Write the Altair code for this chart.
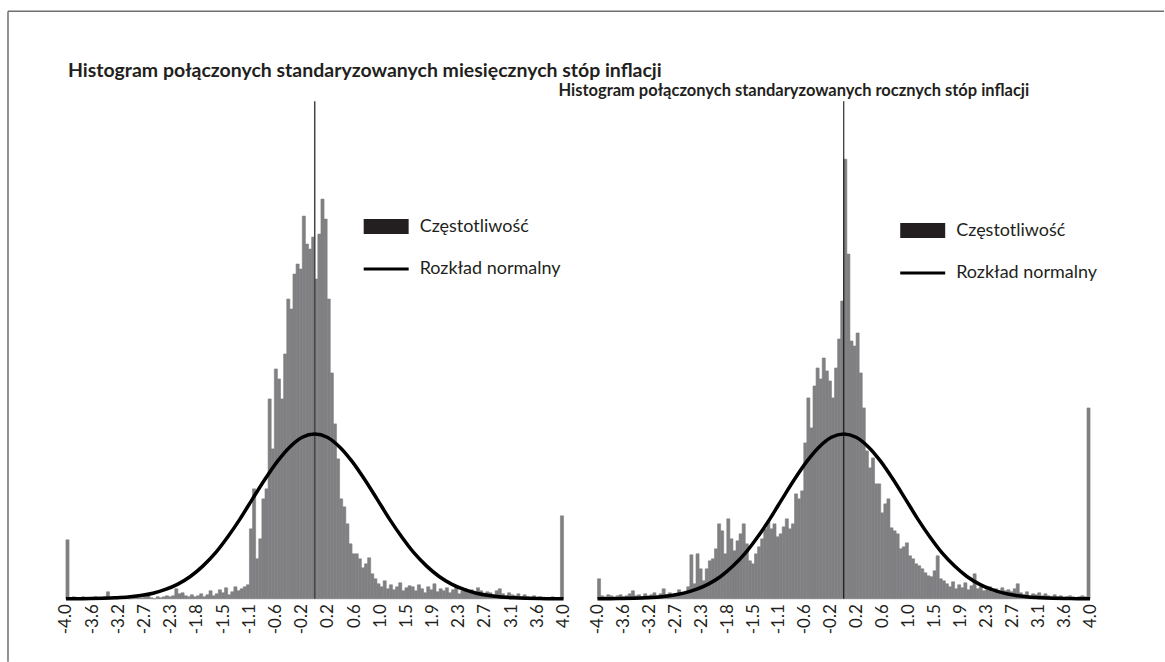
import altair as alt
import pandas as pd

# ---------------- data ----------------
tick_labels = ["-4.0", "-3.6", "-3.2", "-2.7", "-2.3", "-1.8", "-1.5", "-1.1", "-0.6", "-0.2",
               "0.2", "0.6", "1.0", "1.5", "1.9", "2.3", "2.7", "3.1", "3.6", "4.0"]

bin_width = 0.05
x_start = -4.0

# monthly (left) histogram, 160 bins of 0.05 from -4 to 4
monthly_freq = [
    59,
    1, 2, 1, 1, 2, 1, 0, 1, 2, 1, 1, 2, 7,
    1, 2, 0, 1, 2, 1, 0, 1, 2, 1, 1, 2, 3, 1, 0, 2, 1, 2, 3, 2,
    3,
    10, 5, 6,
    3, 2, 4, 2, 3, 5, 2,
    4, 8, 3,
    5, 9, 6, 11, 4, 7, 12, 8, 10, 12,
    14,
    70, 110, 40, 60, 100, 110, 200, 150, 230, 220,
    200, 245, 300, 290, 325, 335, 330, 383, 355, 350,
    362, 320, 365, 400, 380, 300, 226, 175, 140, 100,
    92, 75, 55, 45, 45, 40, 31, 35, 41, 25, 20,
    15, 12, 18, 10, 14, 9, 12, 16, 8, 11, 13,
    12, 8, 14, 10, 6, 12, 9, 15, 7, 10,
    8, 11, 6, 9, 12, 5, 8, 10, 7, 9, 6, 11, 8, 5, 7,
    6, 4, 8, 10, 5, 3, 6,
    4, 3, 5, 2, 4,
    2, 1, 3, 1, 2, 1, 0, 1, 2, 1, 1,
    83,
]

# annual (right) histogram, 160 bins of 0.05 from -4 to 4
annual_freq = [
    20,
    3, 2, 4, 3, 2, 3, 4, 2, 3, 5,
    8,
    3, 4, 2, 5, 3, 4, 6, 3, 5,
    10,
    4, 6, 3, 5,
    9, 4, 6, 12,
    44, 15, 45, 30, 18, 30, 38, 40, 50, 75,
    68, 45, 80, 60, 48, 58, 65, 75, 55, 38,
    35, 45, 52, 60, 70, 78, 70, 75, 62, 65,
    72, 80, 70, 75, 105, 100, 108, 156, 201, 171,
    213, 231, 220, 241, 228, 218, 201, 231, 260,
    298, 440, 345, 258, 253, 266, 226, 191, 148, 131,
    141, 115, 115, 86, 95, 100, 71, 68, 65, 50,
    52, 56, 43, 40, 35, 33, 30, 26, 23, 22,
    28, 43, 20, 18,
    15, 12, 17, 10, 14, 11, 16, 9,
    13, 25, 10, 12, 8,
    9, 12, 7, 10, 6, 11, 8, 9, 7, 10,
    15,
    6, 4, 7, 3, 5, 4, 6, 3, 5,
    3, 2, 4, 2, 3, 1, 2, 3, 2, 1, 2, 3, 2,
    191,
]

# normal curve (same on both panels)
curve_x = [-4.0, -3.8, -3.6, -3.4, -3.2, -3.0, -2.8, -2.6, -2.4, -2.2, -2.0,
           -1.8, -1.6, -1.4, -1.2, -1.0, -0.8, -0.6, -0.4, -0.2, 0.0,
           0.2, 0.4, 0.6, 0.8, 1.0, 1.2, 1.4, 1.6, 1.8, 2.0,
           2.2, 2.4, 2.6, 2.8, 3.0, 3.2, 3.4, 3.6, 3.8, 4.0]
normal_curve = [0.0, 0.1, 0.2, 0.5, 1.0, 1.8, 3.3, 5.6, 9.3, 14.7, 22.3,
                32.7, 45.6, 61.8, 80.0, 100.0, 119.6, 137.5, 152.0, 161.7, 165.0,
                161.7, 152.0, 137.5, 119.6, 100.0, 80.0, 61.8, 45.6, 32.7, 22.3,
                14.7, 9.3, 5.6, 3.3, 1.8, 1.0, 0.5, 0.2, 0.1, 0.0]

left_title = "Histogram połączonych standaryzowanych miesięcznych stóp inflacji"
right_title = "Histogram połączonych standaryzowanych rocznych stóp inflacji"
legend_labels = ["Częstotliwość", "Rozkład normalny"]

# ---------------- chart ----------------
TEXT = "#231f20"
FONT = "Lato"
BAR = "#808083"


def bars_df(freq):
    return pd.DataFrame({
        "x0": [x_start + bin_width * i for i in range(len(freq))],
        "x1": [x_start + bin_width * (i + 1) for i in range(len(freq))],
        "freq": freq,
    })


curve_df = pd.DataFrame({"u": curve_x, "h": normal_curve})
one = pd.DataFrame({"k": [0]})
center_df = pd.DataFrame({"c": [0.0]})

tick_values = [round(x_start + i * 8 / 19, 6) for i in range(len(tick_labels))]
label_expr = "[" + ",".join("'" + t + "'" for t in tick_labels) + "][round((datum.value + 4) * 19 / 8)]"

y_scale = alt.Scale(domain=[0, 498], nice=False, zero=True)


def x_axis():
    return alt.Axis(values=tick_values, labelExpr=label_expr, labelAngle=270,
                    domain=False, ticks=False, grid=False, labelFontSize=17,
                    labelColor=TEXT, labelFont=FONT, labelPadding=5, title=None,
                    labelOverlap=False, labelFlush=False, labelBound=False)


def panel(freq, width, title, title_size, tx, ty,
          lx, ly, center_color, center_width, frame=False):
    x_scale = alt.Scale(domain=[-4, 4], nice=False, zero=False)
    bars = alt.Chart(bars_df(freq)).mark_rect(color=BAR, stroke=BAR, strokeWidth=0.6).encode(
        x=alt.X("x0:Q", scale=x_scale, axis=x_axis()),
        x2="x1:Q",
        y=alt.Y("freq:Q", scale=y_scale, axis=None),
        y2=alt.datum(0),
    )
    center = alt.Chart(center_df).mark_rule(color=center_color, strokeWidth=center_width).encode(
        x=alt.X("c:Q", axis=x_axis())
    )
    curve = alt.Chart(curve_df).mark_line(color="#000000", strokeWidth=3.5,
                                          interpolate="monotone").encode(
        x=alt.X("u:Q", axis=x_axis()), y=alt.Y("h:Q", axis=None)
    )
    title_mark = alt.Chart(one).mark_text(align="left", baseline="alphabetic",
                                          fontSize=title_size, fontWeight="bold",
                                          font=FONT, color=TEXT).encode(
        x=alt.value(tx), y=alt.value(ty), text=alt.value(title)
    )
    leg_rect = alt.Chart(one).mark_rect(color=TEXT).encode(
        x=alt.value(lx), x2=alt.value(lx + 45), y=alt.value(ly), y2=alt.value(ly + 15)
    )
    leg_line = alt.Chart(one).mark_rule(color="#000000", strokeWidth=3).encode(
        x=alt.value(lx), x2=alt.value(lx + 45), y=alt.value(ly + 50)
    )
    leg_t1 = alt.Chart(one).mark_text(align="left", baseline="middle", fontSize=18,
                                      font=FONT, color=TEXT).encode(
        x=alt.value(lx + 56), y=alt.value(ly + 8), text=alt.value(legend_labels[0])
    )
    leg_t2 = alt.Chart(one).mark_text(align="left", baseline="middle", fontSize=18,
                                      font=FONT, color=TEXT).encode(
        x=alt.value(lx + 56), y=alt.value(ly + 50), text=alt.value(legend_labels[1])
    )
    layers = [bars, center, curve, title_mark, leg_rect, leg_line, leg_t1, leg_t2]
    if frame:
        fr1 = alt.Chart(one).mark_rule(color="#6e6e6e", strokeWidth=1.5).encode(
            x=alt.value(-58), y=alt.value(-90), y2=alt.value(561)
        )
        fr2 = alt.Chart(one).mark_rule(color="#6e6e6e", strokeWidth=1.5).encode(
            x=alt.value(-58), x2=alt.value(1099), y=alt.value(-90)
        )
        layers += [fr1, fr2]
    return alt.layer(*layers).properties(width=width, height=498)


left = panel(monthly_freq, 498, left_title, 19.5, 2, -24, 298, 118, "#444444", 1.5, frame=True)
right = panel(annual_freq, 493, right_title, 16.5, -39, -5, 303, 122, "#000000", 1.0)

chart = alt.hconcat(left, right, spacing=34, bounds="flush").properties(
    padding={"left": 7, "top": 10, "right": 0, "bottom": 0}
).configure_view(stroke=None)

chart.save("out.html", embed_options={"renderer": "svg", "actions": False})
